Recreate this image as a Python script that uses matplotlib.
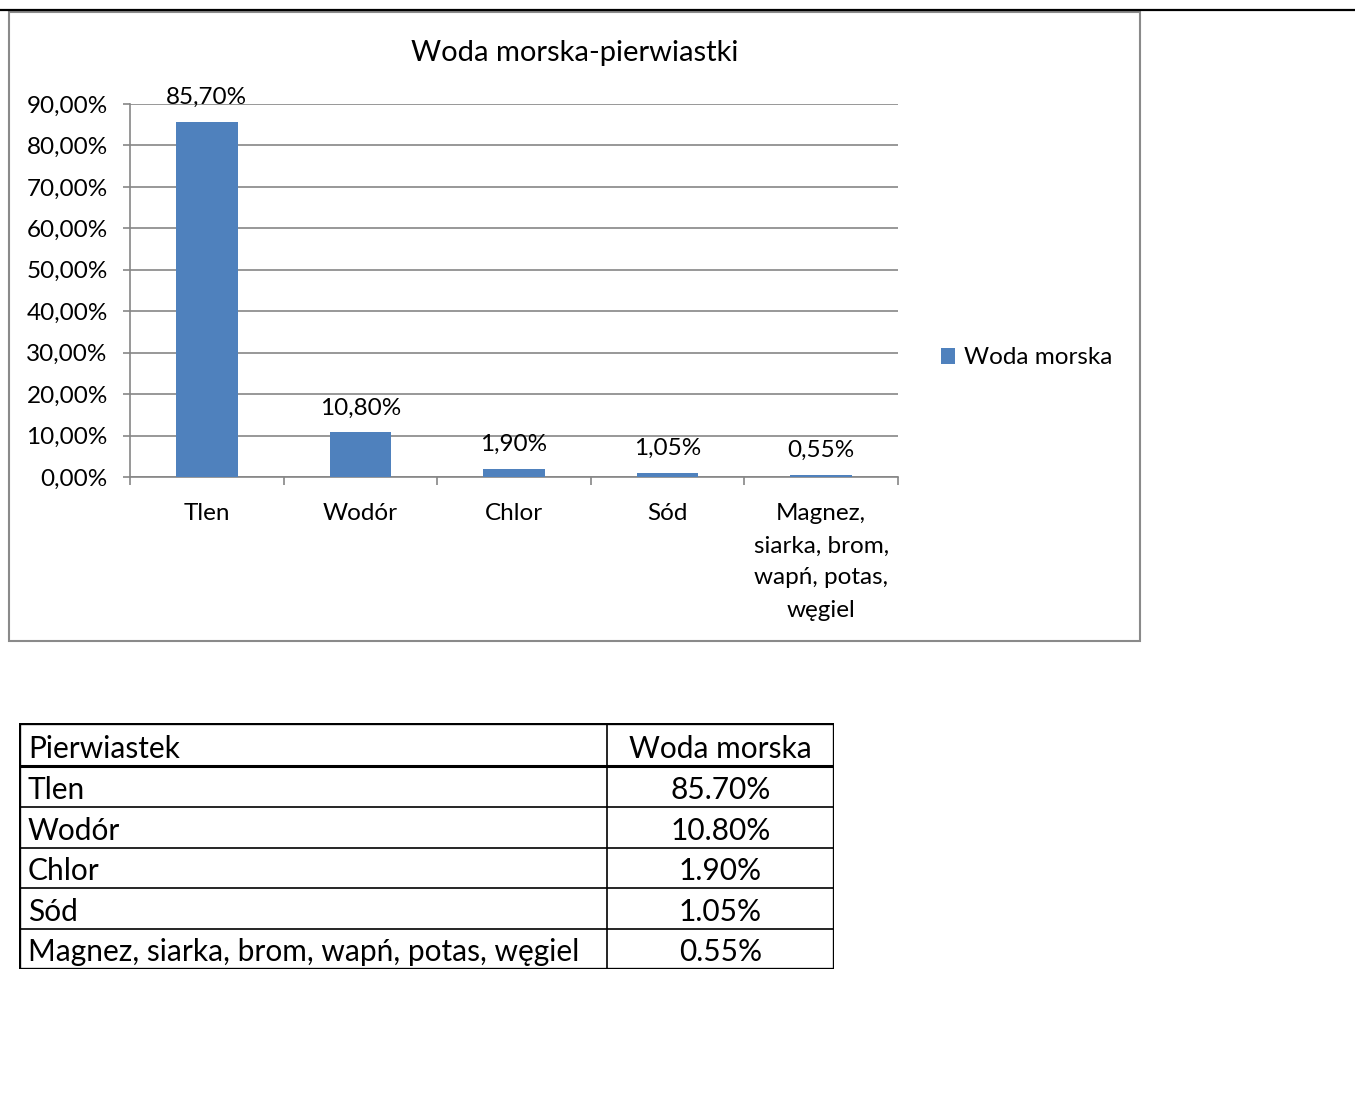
import matplotlib
matplotlib.use("Agg")
import matplotlib.pyplot as plt
from matplotlib.patches import Rectangle
from matplotlib.lines import Line2D

plt.rcParams['font.family'] = ['Lato', 'DejaVu Sans']

title = "Woda morska-pierwiastki"
series_name = "Woda morska"
categories = ["Tlen", "Wodór", "Chlor", "Sód", "Magnez, siarka, brom, wapń, potas, węgiel"]
category_labels = ["Tlen", "Wodór", "Chlor", "Sód", "Magnez,\nsiarka, brom,\nwapń, potas,\nwęgiel"]
values = [85.70, 10.80, 1.90, 1.05, 0.55]
yticks = [0, 10, 20, 30, 40, 50, 60, 70, 80, 90]
table_header = ["Pierwiastek", "Woda morska"]

W, H = 1355, 1120
fig = plt.figure(figsize=(W / 100, H / 100), dpi=100)

def fx(x):
    return x / W

def fy(y):
    return 1 - y / H

FS = 17.5

# top rule and chart frame
fig.add_artist(Line2D([0, 1], [fy(10), fy(10)], color='black', lw=1.6, transform=fig.transFigure))
fig.add_artist(Rectangle((fx(9), fy(641)), fx(1140) - fx(9), fy(12) - fy(641),
                         transform=fig.transFigure, fill=False, edgecolor='#8a8a8a', lw=1.5))

bar_color = '#4F81BD'
grid_color = '#868686'

ax = fig.add_axes([fx(130), fy(477), fx(898) - fx(130), fy(104) - fy(477)])
x = list(range(len(values)))
bars = ax.bar(x, values, width=0.4, color=bar_color, label=series_name, zorder=3)
ax.set_xlim(-0.5, len(values) - 0.5)
ax.set_ylim(0, 90)
ax.set_yticks(yticks)
ax.set_yticklabels([f"{t:.2f}".replace('.', ',') + "%" for t in yticks], fontsize=FS)
ax.yaxis.grid(True, color=grid_color, lw=1.2, zorder=0)
ax.set_axisbelow(True)
for s in ['top', 'right']:
    ax.spines[s].set_visible(False)
for s in ['left', 'bottom']:
    ax.spines[s].set_color(grid_color)
    ax.spines[s].set_linewidth(1.2)
ax.tick_params(axis='y', direction='out', length=5, width=1.2, color=grid_color, pad=11)
ax.set_xticks(x)
ax.set_xticklabels(category_labels, fontsize=FS, linespacing=1.65, va='top')
ax.tick_params(axis='x', which='major', length=0, pad=19)
ax.set_xticks([i - 0.5 for i in range(len(values) + 1)], minor=True)
ax.tick_params(axis='x', which='minor', direction='out', length=6, width=1.2, color=grid_color)

for xi, v in zip(x, values):
    ax.annotate(f"{v:.2f}".replace('.', ',') + "%", (xi, v), xytext=(0, 10),
                textcoords='offset points', ha='center', va='bottom', fontsize=FS)

fig.text(fx(575), fy(53), title, ha='center', va='center', fontsize=21)

fig.legend(handles=[bars], labels=[series_name], loc='center left',
           bbox_to_anchor=(fx(931), fy(358)), frameon=False, fontsize=FS,
           handlelength=0.6, handleheight=0.6, handletextpad=0.35, borderaxespad=0)

# table
tx0, tx1, tsplit = 19, 834, 607
ty0, ty1 = 723, 969
tax = fig.add_axes([fx(tx0), fy(ty1), fx(tx1) - fx(tx0), fy(ty0) - fy(ty1)])
tax.set_xlim(tx0, tx1)
tax.set_ylim(ty1, ty0)
tax.axis('off')
row_edges = [723, 766, 807, 848, 888, 929, 969]
rows = [table_header] + [[c, f"{v:.2f}%"] for c, v in zip(categories, values)]
for i, yb in enumerate(row_edges[1:-1]):
    tax.plot([tx0, tx1], [yb, yb], color='black', lw=2.2 if i == 0 else 1.2, solid_capstyle='butt')
tax.plot([tsplit, tsplit], [ty0, ty1], color='black', lw=1.2)
tax.add_patch(Rectangle((tx0, ty0), tx1 - tx0, ty1 - ty0, fill=False, edgecolor='black', lw=2.4))
for i, row in enumerate(rows):
    yb = row_edges[i + 1] - 8
    tax.text(tx0 + 9, yb, row[0], ha='left', va='baseline', fontsize=21.5)
    tax.text((tsplit + tx1) / 2, yb, row[1], ha='center', va='baseline', fontsize=21.5)

fig.savefig("out.png", dpi=100, facecolor='white')
